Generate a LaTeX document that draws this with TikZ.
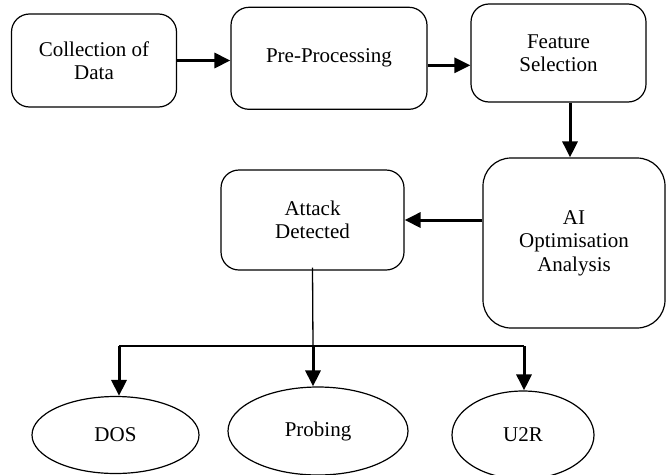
\documentclass[tikz,border=0pt]{standalone}
\usepackage{fontspec}
\setmainfont{Liberation Serif}
\usetikzlibrary{arrows.meta,shapes.geometric}
\begin{document}
\begin{tikzpicture}[x=1pt,y=-1pt,
  every node/.style={font=\fontsize{21}{23.5}\selectfont},
  rbox/.style={draw, line width=1.2pt, rounded corners=18pt, align=center, inner sep=0pt},
  oval/.style={draw, ellipse, line width=1.2pt, inner sep=0pt},
  thickarrow/.style={line width=3pt, -{Triangle[length=16pt,width=15pt]}},
  thinline/.style={line width=1.3pt}
]
\clip (0,0) rectangle (666,474);
\useasboundingbox (0,0) rectangle (666,474);

\node[rbox, minimum width=165pt, minimum height=93pt] (b1) at (94,60.5) {Collection of\\Data};
\node[rbox, minimum width=196pt, minimum height=102pt] (b2) at (329,58.3) {Pre-Processing};
\node[rbox, minimum width=175pt, minimum height=98pt] (b3) at (558.5,53) {Feature\\Selection};
\node[rbox, rounded corners=28pt, minimum width=182pt, minimum height=170pt] (ai) at (574,243) {AI\\Optimisation\\Analysis};
\node[rbox, minimum width=183pt, minimum height=100pt] (att) at (312.5,220) {Attack\\Detected};

\node[oval, minimum width=167pt, minimum height=77pt] (dos) at (115.5,435) {DOS};
\node[oval, minimum width=180pt, minimum height=88pt] (prb) at (318,431) {Probing};
\node[oval, minimum width=142pt, minimum height=88pt] (u2r) at (523,435) {U2R};

\draw[thickarrow] (b1.east) -- (b1.east -| b2.west);
\draw[thickarrow] ([yshift=-7pt]b2.east) -- ([yshift=-7pt]b2.east -| b3.west);
\draw[thickarrow] ([xshift=-4pt]ai.north |- b3.south) -- ([xshift=-4pt]ai.north);
\draw[thickarrow] (ai.west |- att.east) -- (att.east);

\coordinate (jm) at (313,346);
\coordinate (jl) at (119,346);
\coordinate (jr) at (524,346);
\draw[thinline] ([yshift=3pt]att.south) -- (jm);
\draw[thinline] (jl) -- (jr);
\draw[thickarrow] (jl) -- (jl |- dos.north);
\draw[thickarrow] (jm) -- (jm |- prb.north);
\draw[thickarrow] (jr) -- (jr |- u2r.north);
\end{tikzpicture}
\end{document}
